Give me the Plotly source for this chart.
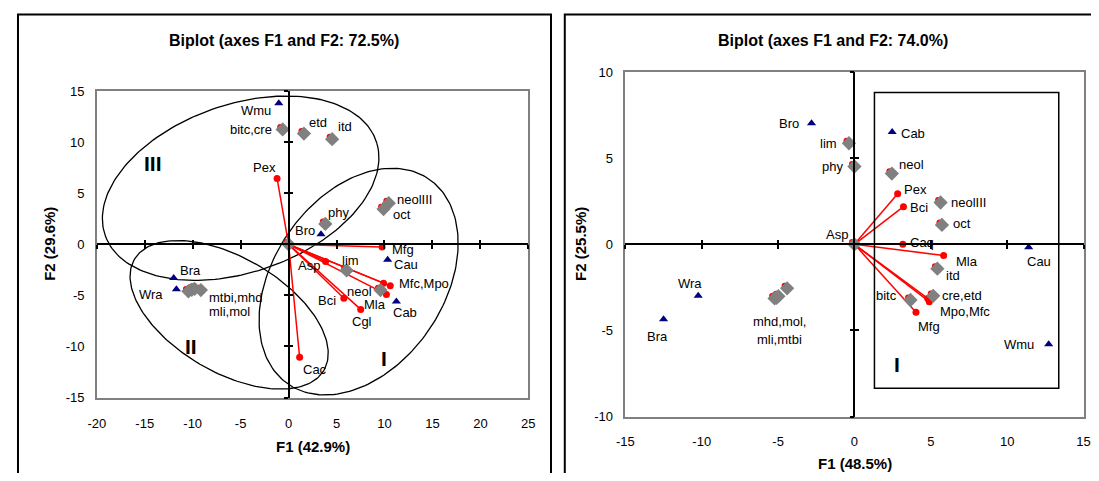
import numpy as np
import plotly.graph_objects as go

# the page keeps the browser's 8px body margin, so the figure is 16px smaller
OX, OY = 8, 8
W, H = 1099 - 2 * OX, 481 - 2 * OY

# ---------------- left biplot (F1 42.9%, F2 29.6%) ----------------
obsL_names = ["Wmu", "Bro", "Bra", "Wra", "Cau", "Cab"]
obsL_x = [-1.02, 3.38, -11.98, -11.7, 10.33, 11.24]
obsL_y = [13.81, 0.98, -3.3, -4.4, -1.5, -5.6]

vecL_names = ["Pex", "Asp", "Mfg", "Mfc", "Mpo", "Mla", "Bci", "Cgl", "Cac"]
vecL_x = [-1.2, 3.86, 9.75, 9.9, 10.6, 10.2, 5.76, 7.52, 1.15]
vecL_y = [6.45, -1.68, -0.25, -3.8, -4.06, -4.9, -5.27, -6.37, -11.05]

supL_names = ["bitc,cre", "etd", "itd", "phy", "neolIII", "oct", "lim", "neol",
              "mtbi", "mhd", "mli", "mol", "origin"]
supL_x = [-0.62, 1.6, 4.54, 3.83, 10.45, 9.9, 6.05, 9.58, -10.45, -10.1, -9.8, -9.15, 0.0]
supL_y = [11.25, 10.85, 10.3, 2.0, 4.03, 3.45, -2.55, -4.48, -4.6, -4.45, -4.35, -4.48, 0.0]

# ellipses: centre x, centre y, semi-axis a, semi-axis b, angle (deg)
ellL_cx = [-5.0, 7.3, -6.2]
ellL_cy = [5.5, -3.65, -6.9]
ellL_a = [14.87, 12.46, 11.28]
ellL_b = [8.26, 8.7, 5.7]
ellL_ang = [17.1, 50.6, -27.7]
groupL_names = ["III", "I", "II"]
groupL_x = [-14.14, 9.96, -10.22]
groupL_y = [7.9, -11.15, -9.98]

xticksL = [-20, -15, -10, -5, 0, 5, 10, 15, 20, 25]
xtickL_text = ["-20", "-15", "-10", "-5", "0", "5", "10", "15", "20", "25"]
yticksL = [-15, -10, -5, 0, 5, 10, 15]
ytickL_text = ["-15", "-10", "-5", "0", "5", "10", "15"]

# ---------------- right biplot (F1 48.5%, F2 25.5%) ----------------
obsR_names = ["Bro", "Cab", "Cau", "Wmu", "Wra", "Bra"]
obsR_x = [-2.81, 2.47, 11.41, 12.72, -10.23, -12.5]
obsR_y = [7.03, 6.52, -0.17, -5.8, -2.99, -4.35]

vecR_names = ["Pex", "Bci", "Caq", "Mla", "Mpo", "Mfc", "Mfg"]
vecR_x = [2.83, 3.21, 3.17, 5.84, 4.8, 4.9, 4.03]
vecR_y = [2.94, 2.19, 0.0, -0.65, -3.14, -3.33, -3.94]

supR_names = ["lim", "phy", "neol", "neolIII", "oct", "itd", "cre,etd", "bitc",
              "mhd", "mol", "mli", "mtbi", "Asp"]
supR_x = [-0.36, 0.0, 2.45, 5.64, 5.73, 5.43, 5.16, 3.67, -5.23, -5.1, -4.98, -4.41, 0.0]
supR_y = [5.87, 4.52, 4.11, 2.43, 1.13, -1.41, -2.99, -3.23, -3.14, -3.1, -3.01, -2.55, 0.0]

boxR_x = [1.31, 13.38]
boxR_y = [-8.36, 8.81]
groupR_names = ["I"]
groupR_x = [2.78]
groupR_y = [-6.95]

xticksR = [-15, -10, -5, 0, 5, 10, 15]
xtickR_text = ["-15", "-10", "-5", "0", "5", "10", "15"]
yticksR = [-10, -5, 0, 5, 10]
ytickR_text = ["-10", "-5", "0", "5", "10"]

FONT = "Liberation Sans, Arial, sans-serif"
NAVY, RED, GREY = "#000080", "#FF0000", "#808080"

# plot areas in window pixels
L = dict(x0=89, x1=527, y0=86.7, y1=403.3, xr=[-20, 25], yr=[-15, 15],
         xt=(xticksL, xtickL_text), yt=(yticksL, ytickL_text))
R = dict(x0=625.5, x1=1090.5, y0=67, y1=423, xr=[-15, 15], yr=[-10, 10],
         xt=(xticksR, xtickR_text), yt=(yticksR, ytickR_text))


def px(x):
    return (x - OX) / W


def py(y):
    return 1 - (y - OY) / H


def dom(p):
    return [px(p["x0"]), min(px(p["x1"]), 1.0)], [py(p["y1"]), py(p["y0"])]


fig = go.Figure()


def lookup(names, xs, ys, n):
    i = names.index(n)
    return xs[i], ys[i]


def panel(p, xa, ya, obs, vec, sup, ells, groups, labels):
    ppx = (p["x1"] - p["x0"]) / (p["xr"][1] - p["xr"][0])
    ppy = (p["y1"] - p["y0"]) / (p["yr"][1] - p["yr"][0])
    kw = dict(xaxis=xa, yaxis=ya, showlegend=False, hoverinfo="skip")

    # ellipses
    t = np.linspace(0, 2 * np.pi, 200)
    for cx, cy, a, b, ang in zip(*ells):
        r = np.radians(ang)
        ex = cx + a * np.cos(r) * np.cos(t) - b * np.sin(r) * np.sin(t)
        ey = cy + a * np.sin(r) * np.cos(t) + b * np.cos(r) * np.sin(t)
        fig.add_trace(go.Scatter(x=ex, y=ey, mode="lines",
                                 line=dict(color="black", width=1.3), **kw))

    # vectors
    vx, vy = [], []
    for x, y in zip(vec[1], vec[2]):
        vx += [0, x, None]
        vy += [0, y, None]
    fig.add_trace(go.Scatter(x=vx, y=vy, mode="lines",
                             line=dict(color=RED, width=1.5), **kw))
    fig.add_trace(go.Scatter(x=vec[1], y=vec[2], mode="markers",
                             marker=dict(color=RED, size=7), **kw))

    # supplementary points: red peek behind grey diamond
    fig.add_trace(go.Scatter(x=[x - 2.5 / ppx for x in sup[1]],
                             y=[y + 2.5 / ppy for y in sup[2]], mode="markers",
                             marker=dict(color=RED, size=6), **kw))
    fig.add_trace(go.Scatter(x=sup[1], y=sup[2], mode="markers",
                             marker=dict(color=GREY, size=11, symbol="diamond"), **kw))

    # observations
    fig.add_trace(go.Scatter(x=obs[1], y=obs[2], mode="markers",
                             marker=dict(color=NAVY, size=8, symbol="triangle-up"), **kw))

    src = dict(obs=obs, vec=vec, sup=sup)
    for text, kind, name, anchor, dx, dy in labels:
        x, y = lookup(*src[kind], name)
        fig.add_annotation(x=x, y=y, xref=xa, yref=ya, text=text, showarrow=False,
                           xanchor=anchor, yanchor="middle", xshift=dx, yshift=dy,
                           font=dict(family=FONT, size=13, color="black"))
    for n, x, y in zip(*groups):
        fig.add_annotation(x=x, y=y, xref=xa, yref=ya, text="<b>%s</b>" % n,
                           showarrow=False, font=dict(family=FONT, size=21, color="black"))


labelsL = [
    ("Wmu", "obs", "Wmu", "right", -6, -7),
    ("bitc,cre", "sup", "bitc,cre", "right", -9, 0),
    ("etd", "sup", "etd", "left", 3, 11),
    ("itd", "sup", "itd", "left", 4, 13),
    ("Pex", "vec", "Pex", "right", 1, 11),
    ("neolIII", "sup", "neolIII", "left", 6, 4),
    ("oct", "sup", "oct", "left", 7, -5),
    ("phy", "sup", "phy", "left", 1, 11),
    ("Bro", "obs", "Bro", "right", -4, 4),
    ("Mfg", "vec", "Mfg", "left", 8, -3),
    ("Cau", "obs", "Cau", "left", 4, -5),
    ("Mfc,Mpo", "vec", "Mpo", "left", 7, 2),
    ("Asp", "vec", "Asp", "right", -4, -4),
    ("lim", "sup", "lim", "left", -7, 10),
    ("neol", "sup", "neol", "right", -6, -1),
    ("Mla", "vec", "Mla", "right", 2, -10),
    ("Cab", "obs", "Cab", "left", -5, -11),
    ("Bci", "vec", "Bci", "right", -6, -2),
    ("Cgl", "vec", "Cgl", "center", 1, -12),
    ("Cac", "vec", "Cac", "left", 1, -12),
    ("Bra", "obs", "Bra", "left", 4, 8),
    ("Wra", "obs", "Wra", "right", -11, -5),
    ("mtbi,mhd", "sup", "mol", "left", 6, -7),
    ("mli,mol", "sup", "mol", "left", 6, -21),
]
labelsR = [
    ("Bro", "obs", "Bro", "right", -11, 0),
    ("Cab", "obs", "Cab", "left", 7, -1),
    ("lim", "sup", "lim", "right", -10, 0),
    ("phy", "sup", "phy", "right", -9, 0),
    ("neol", "sup", "neol", "left", 5, 9),
    ("Pex", "vec", "Pex", "left", 4, 4),
    ("Bci", "vec", "Bci", "left", 5, -1),
    ("neolIII", "sup", "neolIII", "left", 8, 0),
    ("oct", "sup", "oct", "left", 9, 1),
    ("Asp", "sup", "Asp", "right", -4, 10),
    ("Caq", "vec", "Caq", "left", 5, 2),
    ("Mla", "vec", "Mla", "left", 10, -6),
    ("Cau", "obs", "Cau", "left", -4, -14),
    ("itd", "sup", "itd", "left", 7, -7),
    ("cre,etd", "sup", "cre,etd", "left", 7, 0),
    ("bitc", "sup", "bitc", "right", -11, 4),
    ("Mpo,Mfc", "vec", "Mfc", "left", 9, -10),
    ("Mfg", "vec", "Mfg", "left", 0, -14),
    ("Wmu", "obs", "Wmu", "right", -13, 0),
    ("Wra", "obs", "Wra", "center", -8, 12),
    ("Bra", "obs", "Bra", "center", -6, -17),
    ("mhd,mol,", "sup", "mli", "center", 1, -25),
    ("mli,mtbi", "sup", "mli", "center", 1, -43),
]

panel(L, "x", "y", (obsL_names, obsL_x, obsL_y), (vecL_names, vecL_x, vecL_y),
      (supL_names, supL_x, supL_y), (ellL_cx, ellL_cy, ellL_a, ellL_b, ellL_ang),
      (groupL_names, groupL_x, groupL_y), labelsL)
panel(R, "x2", "y2", (obsR_names, obsR_x, obsR_y), (vecR_names, vecR_x, vecR_y),
      (supR_names, supR_x, supR_y), ([], [], [], [], []),
      (groupR_names, groupR_x, groupR_y), labelsR)

# box around group I on the right
fig.add_shape(type="rect", xref="x2", yref="y2", x0=boxR_x[0], x1=boxR_x[1],
              y0=boxR_y[0], y1=boxR_y[1], line=dict(color="black", width=1.5))

tickfont = dict(family=FONT, size=13, color="black")
layout = dict(width=W, height=H, margin=dict(l=0, r=0, t=0, b=0),
              plot_bgcolor="white", paper_bgcolor="white")


def main_axes(p, xk, yk, xanchor, yanchor, xlen, ylen):
    xd, yd = dom(p)
    base = dict(showline=True, linecolor=GREY, linewidth=1.5, mirror=True,
                showgrid=False, zeroline=False, ticks="outside",
                tickcolor="rgba(0,0,0,0)", tickmode="array", tickfont=tickfont)
    layout[xk] = dict(base, domain=xd, range=p["xr"], anchor=yanchor, ticklen=xlen,
                      tickvals=p["xt"][0], ticktext=p["xt"][1])
    layout[yk] = dict(base, domain=yd, range=p["yr"], anchor=xanchor, ticklen=ylen,
                      tickvals=p["yt"][0], ticktext=p["yt"][1])


main_axes(L, "xaxis", "yaxis", "x", "y", 13, 8)
main_axes(R, "xaxis2", "yaxis2", "x2", "y2", 12, 8)


# black zero axes with crossing tick marks (two overlaid free axes each)
def zero_axes(p, xbase, ybase, nx, ny):
    xd, yd = dom(p)
    ypos = yd[0] + (0 - p["yr"][0]) / (p["yr"][1] - p["yr"][0]) * (yd[1] - yd[0])
    xpos = xd[0] + (0 - p["xr"][0]) / (p["xr"][1] - p["xr"][0]) * (xd[1] - xd[0])
    common = dict(showline=True, linecolor="black", linewidth=1.5, showgrid=False,
                  zeroline=False, showticklabels=False, ticklen=4,
                  tickwidth=1.5, tickcolor="black", anchor="free", tickmode="array")
    for k, tk in zip(nx, ["outside", "inside"]):
        layout["xaxis%d" % k] = dict(common, overlaying=xbase, domain=xd, range=p["xr"],
                                      position=ypos, ticks=tk, side="bottom",
                                      tickvals=p["xt"][0])
        fig.add_trace(go.Scatter(x=[None], y=[None], xaxis="x%d" % k, yaxis=ybase,
                                 showlegend=False, hoverinfo="skip"))
    for k, tk in zip(ny, ["outside", "inside"]):
        layout["yaxis%d" % k] = dict(common, overlaying=ybase, domain=yd, range=p["yr"],
                                      position=xpos, ticks=tk, side="left",
                                      tickvals=p["yt"][0])
        fig.add_trace(go.Scatter(x=[None], y=[None], xaxis=xbase, yaxis="y%d" % k,
                                 showlegend=False, hoverinfo="skip"))


zero_axes(L, "x", "y", (3, 4), (3, 4))
zero_axes(R, "x2", "y2", (5, 6), (5, 6))
fig.update_layout(**layout)

# chart frames (running off the bottom / right edge)
fig.add_shape(type="rect", xref="paper", yref="paper", x0=px(9), x1=px(550),
              y0=-0.1, y1=py(7.5), line=dict(color="black", width=2))
fig.add_shape(type="rect", xref="paper", yref="paper", x0=px(564), x1=1.1,
              y0=-0.1, y1=py(7.5), line=dict(color="black", width=2))


def text(x, y, s, size, angle=0):
    fig.add_annotation(x=px(x), y=py(y), xref="paper", yref="paper", text=s,
                       showarrow=False, textangle=angle, xanchor="center",
                       yanchor="middle", font=dict(family=FONT, size=size, color="black"))


text(279, 34, "<b>Biplot (axes F1 and F2: 72.5%)</b>", 16)
text(836, 34, "<b>Biplot (axes F1 and F2: 74.0%)</b>", 16)
text(308, 454, "<b>F1 (42.9%)</b>", 15)
text(41, 245, "<b>F2 (29.6%)</b>", 15, -90)
text(859, 471, "<b>F1 (48.5%)</b>", 15)
text(580, 245, "<b>F2 (25.5%)</b>", 15, -90)

fig.write_html("out.html", config={"displayModeBar": False})
